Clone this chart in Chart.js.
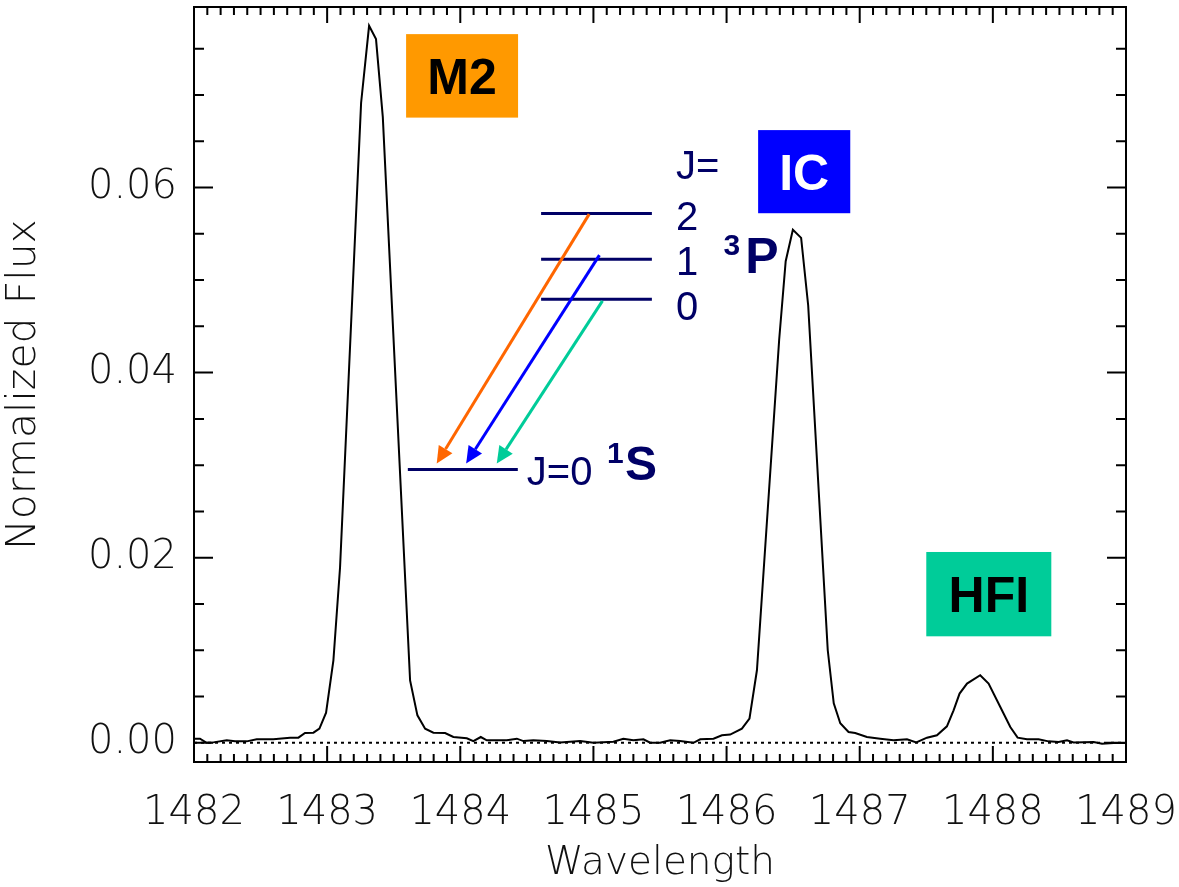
<!DOCTYPE html>
<html>
<head>
<meta charset="utf-8">
<script src="https://cdn.jsdelivr.net/npm/chart.js@4.4.1/dist/chart.umd.min.js"></script>
<style>
  body { margin: 0; background: #fff; }
  #wrap { width: 1179px; height: 887px; }
</style>
</head>
<body>
<div id="wrap"><canvas id="spectrum"></canvas></div>
<script>
// spectrum (wavelength in Angstrom, normalized flux)
var wavelength = [1482.00, 1482.045, 1482.095, 1482.145, 1482.246, 1482.308, 1482.396, 1482.471, 1482.596, 1482.721,
    1482.784, 1482.834, 1482.897, 1482.942, 1482.992, 1483.047, 1483.097, 1483.255, 1483.315, 1483.367,
    1483.418, 1483.623, 1483.678, 1483.736, 1483.798, 1483.886, 1483.948, 1484.049, 1484.098, 1484.154,
    1484.199, 1484.349, 1484.425, 1484.474, 1484.549, 1484.650, 1484.750, 1484.900, 1485.000, 1485.150,
    1485.225, 1485.300, 1485.376, 1485.426, 1485.501, 1485.576, 1485.651, 1485.751, 1485.802, 1485.902,
    1485.965, 1486.027, 1486.115, 1486.172, 1486.228, 1486.395, 1486.444, 1486.498, 1486.560, 1486.613,
    1486.760, 1486.805, 1486.854, 1486.916, 1486.966, 1487.054, 1487.154, 1487.254, 1487.355, 1487.425,
    1487.505, 1487.580, 1487.655, 1487.705, 1487.750, 1487.806, 1487.905, 1487.968, 1488.056, 1488.131,
    1488.186, 1488.256, 1488.343, 1488.418, 1488.494, 1488.557, 1488.606, 1488.757, 1488.820, 1488.907,
    1489.0];
var flux = [0.00045, 0.00045, 0.0, 0.00005, 0.00027, 0.00016, 0.00016, 0.00038, 0.00038, 0.00056,
    0.00056, 0.00106, 0.0011, 0.00153, 0.00326, 0.00892, 0.01897, 0.06913, 0.07747, 0.07603,
    0.06763, 0.00675, 0.00297, 0.00153, 0.0011, 0.00106, 0.00063, 0.00049, 0.00019, 0.00063,
    0.00027, 0.00027, 0.00045, 0.00019, 0.00027, 0.00019, 0.00005, 0.00019, 0.00002, 0.00013,
    0.00045, 0.00027, 0.00038, 0.00002, 0.00002, 0.00027, 0.00019, 0.0, 0.00038, 0.00045,
    0.00081, 0.00089, 0.00153, 0.00262, 0.00784, 0.04355, 0.05204, 0.05543, 0.05456, 0.04725,
    0.0100, 0.00427, 0.00211, 0.00117, 0.00106, 0.00063, 0.00045, 0.00027, 0.00038, 0.00005,
    0.00056, 0.00081, 0.00178, 0.00351, 0.00532, 0.0064, 0.0073, 0.0064, 0.00387, 0.00171,
    0.00056, 0.00038, 0.00038, 0.00016, 0.00009, 0.00027, 0.00005, 0.00009, -0.00009, -0.00002,
    -0.00002];

var xTicks = [1482, 1483, 1484, 1485, 1486, 1487, 1488, 1489];
var xTickLabels = ['1482', '1483', '1484', '1485', '1486', '1487', '1488', '1489'];
var yTicks = [0, 0.02, 0.04, 0.06];
var yTickLabels = ['0.00', '0.02', '0.04', '0.06'];

// line labels in boxes: [text, x1, y1, x2, y2, fill, text colour]
var lineBoxes = [
    ['M2', 1483.593, 0.07657, 1484.434, 0.06755, '#FF9900', '#000000'],
    ['IC', 1486.237, 0.06620, 1486.929, 0.05722, '#0000FF', '#FFFFFF'],
    ['HFI', 1487.500, 0.02062, 1488.439, 0.01151, '#00CC99', '#000000']
];

// level diagram, in data units
var upperLevels = [0.05719, 0.05225, 0.04793];
var upperLevelX = [1484.607, 1485.439];
var groundLevel = [1483.606, 1484.432, 0.02953];
var arrows = [
    [1484.968, 0.05712, 1483.823, 0.03017, '#FF6600'],
    [1485.045, 0.05269, 1484.044, 0.03017, '#0000FF'],
    [1485.068, 0.04775, 1484.274, 0.03017, '#00CC99']
];
// [text, x, y(baseline), size, bold]
var levelTexts = [
    ['J=', 1485.621, 0.06096, 40, false],
    ['2', 1485.621, 0.05539, 40, false],
    ['1', 1485.621, 0.05052, 40, false],
    ['0', 1485.621, 0.04566, 40, false],
    ['J=0', 1484.500, 0.02783, 40, false],
    ['1', 1485.101, 0.03020, 30, true],
    ['S', 1485.238, 0.02837, 48, true],
    ['3', 1485.977, 0.05267, 30, true],
    ['P', 1486.140, 0.05072, 50, true]
];

var axisFont = { family: "'DejaVu Sans', sans-serif", size: 40, weight: '200' };
var boldFamily = "'Liberation Sans', Arial, sans-serif";
var navy = '#000066';

var framePlugin = {
    id: 'frame',
    afterDatasetsDraw: function(chart) {
        var c = chart.ctx, a = chart.chartArea;
        var xs = chart.scales.x, ys = chart.scales.y;
        c.save();
        c.strokeStyle = '#000';
        c.lineWidth = 2;
        c.strokeRect(a.left, a.top, a.right - a.left, a.bottom - a.top);
        c.beginPath();
        for (var i = 0; i <= 70; i++) {
            var px = xs.getPixelForValue(1482 + i / 10);
            var len = i % 10 === 0 ? 16 : 8;
            c.moveTo(px, a.bottom); c.lineTo(px, a.bottom - len);
            c.moveTo(px, a.top); c.lineTo(px, a.top + len);
        }
        for (var j = 0; j <= 15; j++) {
            var py = ys.getPixelForValue(j * 0.005);
            var l2 = j % 4 === 0 ? 19 : 10;
            c.moveTo(a.left, py); c.lineTo(a.left + l2, py);
            c.moveTo(a.right, py); c.lineTo(a.right - l2, py);
        }
        c.stroke();
        c.restore();
    }
};

var diagramPlugin = {
    id: 'diagram',
    afterDatasetsDraw: function(chart) {
        var c = chart.ctx;
        var X = function(v) { return chart.scales.x.getPixelForValue(v); };
        var Y = function(v) { return chart.scales.y.getPixelForValue(v); };
        c.save();

        lineBoxes.forEach(function(b) {
            var x1 = X(b[1]), y1 = Y(b[2]), x2 = X(b[3]), y2 = Y(b[4]);
            c.fillStyle = b[5];
            c.fillRect(x1, y1, x2 - x1, y2 - y1);
            c.fillStyle = b[6];
            c.font = 'bold 50px ' + boldFamily;
            c.textAlign = 'center';
            c.textBaseline = 'alphabetic';
            c.fillText(b[0], (x1 + x2) / 2, (y1 + y2) / 2 + 0.716 * 50 / 2);
        });

        c.strokeStyle = navy;
        c.lineWidth = 3;
        c.beginPath();
        upperLevels.forEach(function(lv) {
            c.moveTo(X(upperLevelX[0]), Y(lv));
            c.lineTo(X(upperLevelX[1]), Y(lv));
        });
        c.moveTo(X(groundLevel[0]), Y(groundLevel[2]));
        c.lineTo(X(groundLevel[1]), Y(groundLevel[2]));
        c.stroke();

        arrows.forEach(function(ar) {
            var x0 = X(ar[0]), y0 = Y(ar[1]), x1 = X(ar[2]), y1 = Y(ar[3]);
            var ang = Math.atan2(y1 - y0, x1 - x0);
            var head = 17, half = 8;
            var bx = x1 - head * Math.cos(ang), by = y1 - head * Math.sin(ang);
            c.strokeStyle = ar[4];
            c.fillStyle = ar[4];
            c.lineWidth = 3;
            c.beginPath();
            c.moveTo(x0, y0); c.lineTo(bx, by);
            c.stroke();
            c.beginPath();
            c.moveTo(x1, y1);
            c.lineTo(bx + half * Math.sin(ang), by - half * Math.cos(ang));
            c.lineTo(bx - half * Math.sin(ang), by + half * Math.cos(ang));
            c.closePath();
            c.fill();
        });

        c.fillStyle = navy;
        c.textAlign = 'left';
        c.textBaseline = 'alphabetic';
        levelTexts.forEach(function(t) {
            c.font = (t[4] ? 'bold ' : '') + t[3] + 'px ' + boldFamily;
            c.fillText(t[0], X(t[1]), Y(t[2]));
        });
        c.restore();
    }
};

var ctx = document.getElementById('spectrum').getContext('2d');
var chart = new Chart(ctx, {
    type: 'line',
    data: {
        datasets: [
            {
                data: wavelength.map(function(w, i) { return { x: w, y: flux[i] }; }),
                borderColor: '#000',
                borderWidth: 2,
                pointRadius: 0,
                tension: 0
            },
            {
                data: [{ x: xTicks[0], y: 0 }, { x: xTicks[xTicks.length - 1], y: 0 }],
                borderColor: '#000',
                borderWidth: 2,
                borderDash: [3, 4],
                pointRadius: 0
            }
        ]
    },
    options: {
        responsive: true,
        maintainAspectRatio: false,
        animation: false,
        layout: { padding: { left: 0, top: 7, right: 53, bottom: 0 } },
        plugins: { legend: { display: false }, tooltip: { enabled: false } },
        scales: {
            x: {
                type: 'linear',
                min: 1482,
                max: 1489,
                afterBuildTicks: function(s) { s.ticks = xTicks.map(function(v) { return { value: v }; }); },
                afterFit: function(s) {
                    s.height = 125;
                    s.paddingLeft = 0; s.paddingRight = 0;
                },
                grid: { display: false, drawTicks: false },
                border: { display: false },
                ticks: {
                    font: axisFont, color: '#111', padding: 28, maxRotation: 0, autoSkip: false,
                    callback: function(v) { return xTickLabels[xTicks.indexOf(v)]; }
                },
                title: { display: true, text: 'Wavelength', font: { family: axisFont.family, size: 39, weight: '200' }, color: '#111', padding: { top: 0, bottom: 0 } }
            },
            y: {
                type: 'linear',
                min: -0.00207,
                max: 0.0795,
                afterBuildTicks: function(s) { s.ticks = yTicks.map(function(v) { return { value: v }; }); },
                afterFit: function(s) {
                    s.width = 194;
                    s.paddingTop = 0; s.paddingBottom = 0;
                },
                grid: { display: false, drawTicks: false },
                border: { display: false },
                ticks: {
                    font: axisFont, color: '#111', padding: 17, autoSkip: false,
                    callback: function(v) { return yTickLabels[yTicks.indexOf(v)]; }
                },
                title: { display: true, text: 'Normalized Flux', font: { family: axisFont.family, size: 41, weight: '200' }, color: '#111', padding: { top: 0, bottom: 6 } }
            }
        }
    },
    plugins: [framePlugin, diagramPlugin]
});
</script>
</body>
</html>
